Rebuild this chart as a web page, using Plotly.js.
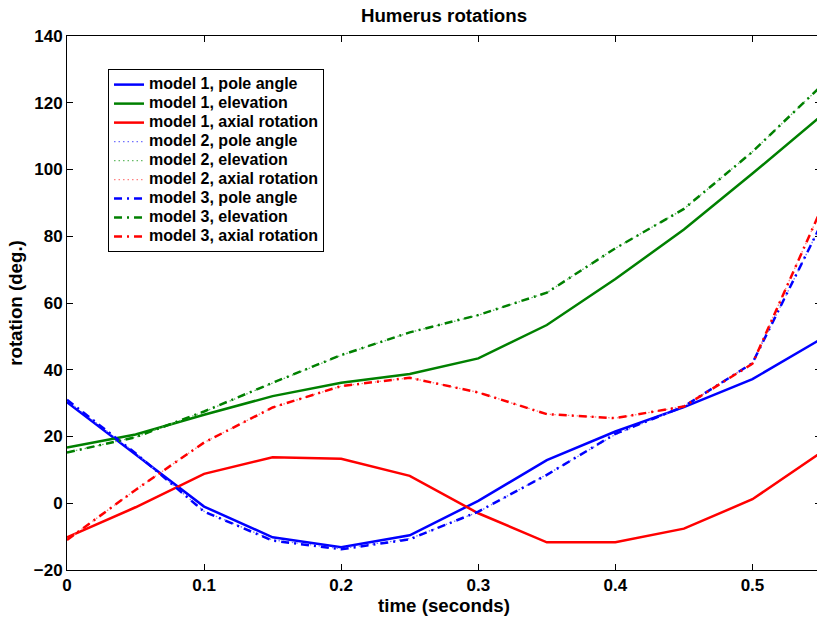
<!DOCTYPE html>
<html><head><meta charset="utf-8">
<script src="https://cdn.plot.ly/plotly-3.0.1.min.js"></script>
<style>html,body{margin:0;padding:0;overflow:hidden;background:#fff;width:817px;height:621px}</style>
</head><body>
<div id="chart" style="width:822px;height:621px"></div>
<script>
var time = [0, 0.05, 0.1, 0.15, 0.2, 0.25, 0.3, 0.35, 0.4, 0.45, 0.5, 0.55];

var m1Pole  = [30.3, 14.7, -1.0, -10.2, -13.2, -9.6, 0.7, 12.9, 21.5, 28.8, 37.2, 49.2];
var m1Elev  = [16.7, 20.6, 26.5, 32.1, 36.1, 38.7, 43.4, 53.4, 67.2, 82.0, 98.8, 116.0];
var m1Axial = [-10.2, -1.2, 8.8, 13.8, 13.3, 8.2, -3.0, -11.7, -11.7, -7.6, 1.2, 15.2];

var m2Pole  = [30.8, 15.0, -2.4, -11.0, -13.6, -10.6, -2.6, 8.6, 20.6, 29.0, 42.0, 83.5];
var m2Elev  = [15.2, 19.8, 27.4, 36.0, 44.3, 51.2, 56.3, 63.1, 76.4, 88.2, 105.3, 125.0];
var m2Axial = [-11.0, 4.0, 18.2, 28.7, 35.1, 37.6, 33.2, 26.7, 25.5, 29.0, 42.0, 88.0];

var m3Pole  = [31.0, 15.0, -2.5, -11.2, -13.8, -10.8, -2.5, 8.5, 20.8, 29.0, 42.0, 83.5];
var m3Elev  = [15.2, 19.8, 27.5, 36.1, 44.4, 51.2, 56.4, 63.1, 76.4, 88.2, 105.3, 125.0];
var m3Axial = [-11.0, 4.0, 18.2, 28.7, 35.1, 37.6, 33.2, 26.7, 25.5, 29.0, 41.8, 88.0];

var names = ['model 1, pole angle','model 1, elevation','model 1, axial rotation',
             'model 2, pole angle','model 2, elevation','model 2, axial rotation',
             'model 3, pole angle','model 3, elevation','model 3, axial rotation'];
var series = [m1Pole, m1Elev, m1Axial, m2Pole, m2Elev, m2Axial, m3Pole, m3Elev, m3Axial];
var colors = ['#0000ff','#008000','#ff0000',
              '#7070ff','#66bb66','#ff8080',
              '#0000ff','#008000','#ff0000'];
var dashes = ['solid','solid','solid',
              '1.5px,3px','1.5px,3px','1.5px,3px',
              '8px,5px,2px,5px','8px,5px,2px,5px','8px,5px,2px,5px'];
var widths = [2.5,2.5,2.5, 1.3,1.3,1.3, 2.5,2.5,2.5];

var traces = series.map(function(s, i){
  return {x: time, y: s, type: 'scatter', mode: 'lines',
          name: '<span style="font-size:16px">' + names[i] + '</span>',
          line: {color: colors[i], width: widths[i], dash: dashes[i]}, hoverinfo: 'skip'};
});

var F = 'Liberation Sans, Arial, Helvetica, sans-serif';
var TF = {family: F, size: 18.7, color: '#000'};
var layout = {
  width: 822, height: 621,
  margin: {l: 67, r: 1, t: 36, b: 51},
  paper_bgcolor: '#fff', plot_bgcolor: '#fff',
  font: {family: F, size: 17, color: '#000', weight: 'bold'},
  title: {text: '<b>Humerus rotations</b>', x: 0.5, xref: 'paper', y: 0.975, yanchor: 'middle', font: TF},
  xaxis: {range: [0, 0.55], tickvals: [0,0.1,0.2,0.3,0.4,0.5], ticktext: ['0','0.1','0.2','0.3','0.4','0.5'],
          ticks: 'inside', ticklen: 6, tickcolor: '#000', showline: true, linecolor: '#000', linewidth: 1,
          mirror: 'ticks', showgrid: false, zeroline: false,
          tickfont: {family: F, size: 17, color: '#000', weight: 'bold'},
          title: {text: '<b>time (seconds)</b>', standoff: 3, font: TF}},
  yaxis: {range: [-20, 140], tickvals: [-20,0,20,40,60,80,100,120,140],
          ticktext: ['\u221220','0','20','40','60','80','100','120','140'],
          ticks: 'inside', ticklen: 6, tickcolor: '#000', showline: true, linecolor: '#000', linewidth: 1,
          mirror: 'ticks', showgrid: false, zeroline: false,
          tickfont: {family: F, size: 17, color: '#000', weight: 'bold'},
          title: {text: '<b>rotation (deg.)</b>', standoff: 6, font: TF}},
  showlegend: true,
  legend: {x: 0.0544, y: 0.938, xanchor: 'left', yanchor: 'top', bgcolor: '#fff',
           bordercolor: '#000', borderwidth: 1, tracegroupgap: 0,
           font: {family: F, size: 11.7, color: '#000', weight: 'bold'}}
};
Plotly.newPlot('chart', traces, layout, {staticPlot: true, displayModeBar: false});
</script>
</body></html>
